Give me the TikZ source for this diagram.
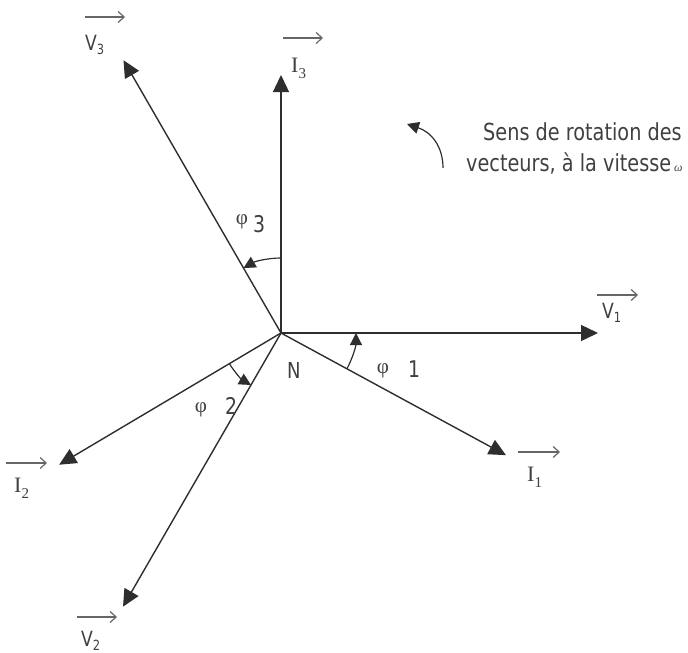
\documentclass[tikz,border=0pt]{standalone}
\usepackage{fontspec}
\setmainfont[FakeStretch=0.82]{DejaVu Sans}
\newfontfamily\seriffam{Liberation Serif}
\usetikzlibrary{arrows.meta,calc}
\newcommand{\vsubx}[2]{#1\raisebox{-0.22em}{\fontsize{14}{14}\selectfont #2}}
\newcommand{\isubx}[2]{#1\raisebox{-0.3em}{\fontsize{15}{15}\selectfont #2}}
\begin{document}
\begin{tikzpicture}[x=1pt,y=-1pt,
  vec/.style={line width=1.4pt, draw=black!82, -{Triangle[length=17pt,width=16pt]}},
  ang/.style={line width=1.2pt, draw=black!82, -{Triangle[length=12pt,width=12pt]}},
  ovarrow/.style={line width=1.2pt, draw=black!60, -{Straight Barb[length=6pt,width=11pt]}},
  vlab/.style={text=black!75, font=\fontsize{21}{21}\selectfont, inner sep=0pt, anchor=base west},
  ilab/.style={text=black!75, font=\seriffam\fontsize{22}{22}\selectfont, inner sep=0pt, anchor=base west},
  philab/.style={text=black!75, font=\seriffam\fontsize{21}{21}\selectfont, inner sep=0pt},
  numlab/.style={text=black!75, font=\fontsize{23}{23}\selectfont, inner sep=0pt},
  note/.style={text=black!75, font=\fontsize{23.5}{23.5}\selectfont, inner sep=0pt, anchor=base west}
]
\useasboundingbox (0,0) rectangle (688,653);
\coordinate (N) at (281,333);
\coordinate (V1) at ($(N)+(0:317)$);
\coordinate (V2) at ($(N)+(120:316)$);
\coordinate (V3) at ($(N)+(-120:315)$);
\coordinate (I1) at ($(N)+(28.5:256)$);
\coordinate (I2) at ($(N)+(149.3:258)$);
\coordinate (I3) at ($(N)+(-90:258)$);

% vectors
\draw[vec] (N) -- (V1);
\draw[vec] (N) -- (V2);
\draw[vec] (N) -- (V3);
\draw[vec] (N) -- (I1);
\draw[vec] (N) -- (I2);
\draw[vec] (N) -- (I3);

% phase angles
\draw[ang] ($(N)+(28.5:75)$) arc[start angle=28.5, end angle=0, radius=75];
\draw[ang] ($(N)+(149.3:60)$) arc[start angle=149.3, end angle=120, radius=60];
\draw[ang] ($(N)+(-90:75)$) arc[start angle=-90, end angle=-120, radius=75];

% labels
\node[vlab] (nV1) at (602,318) {\vsubx{V}{1}};
\draw[ovarrow] (597,295) -- (638,295);
\node[ilab] (nI1) at (527,481) {\isubx{I}{1}};
\draw[ovarrow] (518,452) -- (560,452);
\node[vlab] (nV2) at (81,646) {\vsubx{V}{2}};
\draw[ovarrow] (77,617) -- (117,617);
\node[ilab] (nI2) at (14,492) {\isubx{I}{2}};
\draw[ovarrow] (6,463) -- (47,463);
\node[vlab] (nV3) at (85,50) {\vsubx{V}{3}};
\draw[ovarrow] (85,17) -- (125,17);
\node[ilab] (nI3) at (291,72) {\isubx{I}{3}};
\draw[ovarrow] (283,38) -- (323,38);

\node[vlab, font=\fontsize{22}{22}\selectfont] (nN) at (287,378) {N};

\node[philab] (p3) at (242,222) {φ};
\node[numlab] (n3) at (259,224) {3};
\node[philab] (p2) at (201,410) {φ};
\node[numlab] (n2) at (231,406) {2};
\node[philab] (p1) at (383,371) {φ};
\node[numlab] (n1) at (414,369) {1};

% rotation note
\draw[ang] (443,168) .. controls (443,146) and (431,132) .. (407,124);
\node[note] (t1) at (483,140) {Sens de rotation des};
\node[note] (t2) at (466,171) {vecteurs, à la vitesse};
\node[text=black!75, font=\seriffam\itshape\fontsize{12}{12}\selectfont, inner sep=0pt, anchor=base west] (om) at (674,171) {ω};
\end{tikzpicture}
\end{document}
